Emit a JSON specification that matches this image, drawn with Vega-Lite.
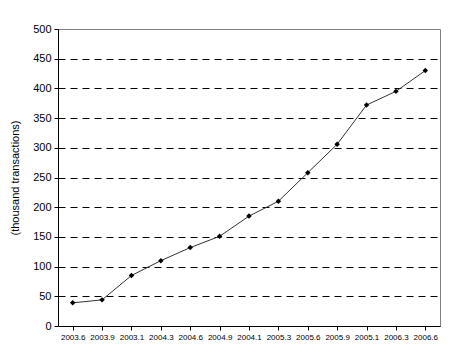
{
  "$schema": "https://vega.github.io/schema/vega-lite/v6.json",
  "width": 382,
  "height": 297,
  "autosize": "none",
  "padding": {"left": 58, "top": 29, "right": 24, "bottom": 32},
  "background": "white",
  "config": {
    "view": {"stroke": "#808080", "strokeWidth": 1},
    "font": "Liberation Sans"
  },
  "data": {
    "values": [
      {"period": "2003.6", "value": 39},
      {"period": "2003.9", "value": 44},
      {"period": "2003.1", "value": 85},
      {"period": "2004.3", "value": 110},
      {"period": "2004.6", "value": 132},
      {"period": "2004.9", "value": 151},
      {"period": "2004.1", "value": 185},
      {"period": "2005.3", "value": 210},
      {"period": "2005.6", "value": 258},
      {"period": "2005.9", "value": 306},
      {"period": "2005.1", "value": 372},
      {"period": "2006.3", "value": 395},
      {"period": "2006.6", "value": 430}
    ]
  },
  "encoding": {
    "x": {
      "field": "period",
      "type": "ordinal",
      "sort": null,
      "scale": {"paddingInner": 0, "paddingOuter": 0},
      "axis": {
        "title": null,
        "labelAngle": 0,
        "labelFontSize": 8,
        "labelColor": "#000",
        "labelPadding": 3,
        "tickSize": 4,
        "tickColor": "#000",
        "domainColor": "#000",
        "bandPosition": 0,
        "grid": false
      }
    },
    "y": {
      "field": "value",
      "type": "quantitative",
      "scale": {"domain": [0, 500], "nice": false},
      "axis": {
        "title": "(thousand transactions)",
        "titleFontSize": 11,
        "titleFontWeight": "normal",
        "titleColor": "#000",
        "titlePadding": 12,
        "values": [0, 50, 100, 150, 200, 250, 300, 350, 400, 450, 500],
        "labelFontSize": 11,
        "labelColor": "#000",
        "labelPadding": 3,
        "tickSize": 4,
        "tickColor": "#000",
        "domainColor": "#000",
        "grid": true,
        "gridColor": "#000",
        "gridDash": {"condition": {"test": "datum.value == 500", "value": []}, "value": [7, 5]},
        "gridOpacity": {"condition": {"test": "datum.value == 500 || datum.value == 0", "value": 0}, "value": 1}
      }
    }
  },
  "layer": [
    {"mark": {"type": "line", "color": "#333", "strokeWidth": 1}},
    {"mark": {"type": "point", "shape": "diamond", "filled": true, "color": "#000", "opacity": 1, "size": 30}}
  ]
}
